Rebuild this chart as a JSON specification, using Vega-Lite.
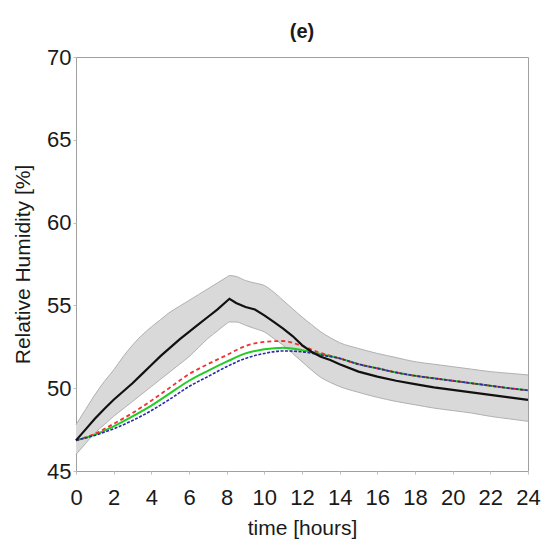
{
  "$schema": "https://vega.github.io/schema/vega-lite/v6.json",
  "width": 452,
  "height": 414,
  "autosize": {"type": "none"},
  "padding": {"left": 76, "top": 57, "right": 16, "bottom": 70},
  "background": "white",
  "config": {
    "view": {"stroke": "#a0a0a0", "strokeWidth": 1},
    "font": "Liberation Sans",
    "axis": {"domain": false, "grid": false, "labelFont": "Liberation Sans", "titleFont": "Liberation Sans", "labelFontSize": 22, "titleFontSize": 21, "labelColor": "#1a1a1a", "titleColor": "#1a1a1a", "titleFontWeight": "normal", "tickColor": "#c0c0c0"}
  },
  "title": {"text": "(e)", "fontSize": 20, "fontWeight": "bold", "font": "Liberation Sans", "color": "#1a1a1a", "anchor": "middle", "offset": 4},
  "datasets": {
    "obs": [
      {"t": 0, "rh": 46.85, "lo": 46.0, "hi": 47.8},
      {"t": 0.5, "rh": 47.5, "lo": 46.65, "hi": 48.7},
      {"t": 1, "rh": 48.15, "lo": 47.3, "hi": 49.6},
      {"t": 1.5, "rh": 48.75, "lo": 47.8, "hi": 50.4},
      {"t": 2, "rh": 49.3, "lo": 48.3, "hi": 51.1},
      {"t": 2.5, "rh": 49.8, "lo": 48.75, "hi": 51.9},
      {"t": 3, "rh": 50.3, "lo": 49.2, "hi": 52.6},
      {"t": 3.5, "rh": 50.85, "lo": 49.65, "hi": 53.2},
      {"t": 4, "rh": 51.4, "lo": 50.1, "hi": 53.7},
      {"t": 4.5, "rh": 51.95, "lo": 50.55, "hi": 54.15},
      {"t": 5, "rh": 52.45, "lo": 51.0, "hi": 54.6},
      {"t": 5.5, "rh": 52.95, "lo": 51.45, "hi": 54.95},
      {"t": 6, "rh": 53.4, "lo": 51.9, "hi": 55.3},
      {"t": 6.5, "rh": 53.85, "lo": 52.45, "hi": 55.65},
      {"t": 7, "rh": 54.3, "lo": 53.0, "hi": 56.0},
      {"t": 7.5, "rh": 54.75, "lo": 53.45, "hi": 56.35},
      {"t": 8, "rh": 55.25, "lo": 53.9, "hi": 56.7},
      {"t": 8.15, "rh": 55.4, "lo": 54.0, "hi": 56.8},
      {"t": 8.5, "rh": 55.15, "lo": 54.0, "hi": 56.75},
      {"t": 9, "rh": 54.9, "lo": 53.8, "hi": 56.5},
      {"t": 9.5, "rh": 54.75, "lo": 53.6, "hi": 56.35},
      {"t": 10, "rh": 54.4, "lo": 53.4, "hi": 56.2},
      {"t": 10.5, "rh": 54.0, "lo": 53.0, "hi": 55.8},
      {"t": 11, "rh": 53.6, "lo": 52.6, "hi": 55.3},
      {"t": 11.5, "rh": 53.15, "lo": 52.1, "hi": 54.8},
      {"t": 12, "rh": 52.6, "lo": 51.6, "hi": 54.3},
      {"t": 12.5, "rh": 52.2, "lo": 51.1, "hi": 53.85},
      {"t": 13, "rh": 51.9, "lo": 50.65, "hi": 53.4},
      {"t": 13.5, "rh": 51.7, "lo": 50.35, "hi": 53.05},
      {"t": 14, "rh": 51.45, "lo": 50.1, "hi": 52.75},
      {"t": 15, "rh": 51.0, "lo": 49.75, "hi": 52.4},
      {"t": 16, "rh": 50.7, "lo": 49.45, "hi": 52.1},
      {"t": 17, "rh": 50.45, "lo": 49.2, "hi": 51.85},
      {"t": 18, "rh": 50.25, "lo": 49.0, "hi": 51.6},
      {"t": 19, "rh": 50.05, "lo": 48.8, "hi": 51.45},
      {"t": 20, "rh": 49.9, "lo": 48.65, "hi": 51.3},
      {"t": 21, "rh": 49.75, "lo": 48.5, "hi": 51.15},
      {"t": 22, "rh": 49.6, "lo": 48.3, "hi": 51.0},
      {"t": 23, "rh": 49.45, "lo": 48.15, "hi": 50.9},
      {"t": 24, "rh": 49.3, "lo": 48.0, "hi": 50.8}
    ],
    "model": [
      {"t": 0, "s": "red", "rh": 46.85}, {"t": 1, "s": "red", "rh": 47.25}, {"t": 2, "s": "red", "rh": 47.85}, {"t": 3, "s": "red", "rh": 48.5}, {"t": 4, "s": "red", "rh": 49.25}, {"t": 5, "s": "red", "rh": 50.05}, {"t": 6, "s": "red", "rh": 50.85}, {"t": 7, "s": "red", "rh": 51.45}, {"t": 8, "s": "red", "rh": 52.0}, {"t": 9, "s": "red", "rh": 52.55}, {"t": 10, "s": "red", "rh": 52.8}, {"t": 11, "s": "red", "rh": 52.85}, {"t": 12, "s": "red", "rh": 52.55}, {"t": 13, "s": "red", "rh": 52.12}, {"t": 14, "s": "red", "rh": 51.8}, {"t": 15, "s": "red", "rh": 51.45}, {"t": 16, "s": "red", "rh": 51.2}, {"t": 17, "s": "red", "rh": 50.95}, {"t": 18, "s": "red", "rh": 50.75}, {"t": 19, "s": "red", "rh": 50.6}, {"t": 20, "s": "red", "rh": 50.45}, {"t": 21, "s": "red", "rh": 50.3}, {"t": 22, "s": "red", "rh": 50.15}, {"t": 23, "s": "red", "rh": 50.0}, {"t": 24, "s": "red", "rh": 49.87},
      {"t": 0, "s": "green", "rh": 46.85}, {"t": 1, "s": "green", "rh": 47.2}, {"t": 2, "s": "green", "rh": 47.7}, {"t": 3, "s": "green", "rh": 48.3}, {"t": 4, "s": "green", "rh": 48.95}, {"t": 5, "s": "green", "rh": 49.7}, {"t": 6, "s": "green", "rh": 50.45}, {"t": 7, "s": "green", "rh": 51.05}, {"t": 8, "s": "green", "rh": 51.6}, {"t": 9, "s": "green", "rh": 52.1}, {"t": 10, "s": "green", "rh": 52.35}, {"t": 11, "s": "green", "rh": 52.45}, {"t": 12, "s": "green", "rh": 52.3}, {"t": 13, "s": "green", "rh": 52.05}, {"t": 14, "s": "green", "rh": 51.8}, {"t": 15, "s": "green", "rh": 51.45}, {"t": 16, "s": "green", "rh": 51.2}, {"t": 17, "s": "green", "rh": 50.95}, {"t": 18, "s": "green", "rh": 50.75}, {"t": 19, "s": "green", "rh": 50.6}, {"t": 20, "s": "green", "rh": 50.45}, {"t": 21, "s": "green", "rh": 50.3}, {"t": 22, "s": "green", "rh": 50.15}, {"t": 23, "s": "green", "rh": 50.0}, {"t": 24, "s": "green", "rh": 49.87},
      {"t": 0, "s": "blue", "rh": 46.85}, {"t": 1, "s": "blue", "rh": 47.15}, {"t": 2, "s": "blue", "rh": 47.55}, {"t": 3, "s": "blue", "rh": 48.05}, {"t": 4, "s": "blue", "rh": 48.65}, {"t": 5, "s": "blue", "rh": 49.35}, {"t": 6, "s": "blue", "rh": 50.1}, {"t": 7, "s": "blue", "rh": 50.7}, {"t": 8, "s": "blue", "rh": 51.3}, {"t": 9, "s": "blue", "rh": 51.8}, {"t": 10, "s": "blue", "rh": 52.1}, {"t": 11, "s": "blue", "rh": 52.25}, {"t": 12, "s": "blue", "rh": 52.2}, {"t": 13, "s": "blue", "rh": 52.0}, {"t": 14, "s": "blue", "rh": 51.8}, {"t": 15, "s": "blue", "rh": 51.45}, {"t": 16, "s": "blue", "rh": 51.2}, {"t": 17, "s": "blue", "rh": 50.95}, {"t": 18, "s": "blue", "rh": 50.75}, {"t": 19, "s": "blue", "rh": 50.6}, {"t": 20, "s": "blue", "rh": 50.45}, {"t": 21, "s": "blue", "rh": 50.3}, {"t": 22, "s": "blue", "rh": 50.15}, {"t": 23, "s": "blue", "rh": 50.0}, {"t": 24, "s": "blue", "rh": 49.87}
    ]
  },
  "encoding": {
    "x": {"field": "t", "type": "quantitative", "scale": {"domain": [0, 24], "nice": false, "zero": false}, "axis": {"title": "time [hours]", "values": [0, 2, 4, 6, 8, 10, 12, 14, 16, 18, 20, 22, 24], "tickSize": 3, "labelPadding": 13, "titlePadding": 9, "labelFlush": false}}
  },
  "layer": [
    {
      "data": {"name": "obs"},
      "mark": {"type": "area", "color": "#d9d9d9", "opacity": 1, "interpolate": "monotone"},
      "encoding": {
        "y": {"field": "lo", "type": "quantitative", "scale": {"domain": [45, 70], "nice": false, "zero": false}, "axis": {"title": "Relative Humidity [%]", "values": [45, 50, 55, 60, 65, 70], "tickSize": 3, "labelPadding": 2, "titlePadding": 13}},
        "y2": {"field": "hi"}
      }
    },
    {
      "data": {"name": "obs"},
      "mark": {"type": "line", "color": "#b0b0b0", "strokeWidth": 1, "interpolate": "monotone"},
      "encoding": {"y": {"field": "hi", "type": "quantitative"}}
    },
    {
      "data": {"name": "obs"},
      "mark": {"type": "line", "color": "#b0b0b0", "strokeWidth": 1, "interpolate": "monotone"},
      "encoding": {"y": {"field": "lo", "type": "quantitative"}}
    },
    {
      "data": {"name": "model"},
      "transform": [{"filter": "datum.s === 'green'"}],
      "mark": {"type": "line", "color": "#22cc22", "strokeWidth": 2, "interpolate": "monotone"},
      "encoding": {"y": {"field": "rh", "type": "quantitative"}}
    },
    {
      "data": {"name": "model"},
      "transform": [{"filter": "datum.s === 'red'"}],
      "mark": {"type": "line", "color": "#ee3333", "strokeWidth": 1.8, "strokeDash": [4, 3], "interpolate": "monotone"},
      "encoding": {"y": {"field": "rh", "type": "quantitative"}}
    },
    {
      "data": {"name": "model"},
      "transform": [{"filter": "datum.s === 'blue'"}],
      "mark": {"type": "line", "color": "#2a2aa8", "strokeWidth": 1.6, "strokeDash": [3, 1.5], "interpolate": "monotone"},
      "encoding": {"y": {"field": "rh", "type": "quantitative"}}
    },
    {
      "data": {"name": "obs"},
      "mark": {"type": "line", "color": "#111111", "strokeWidth": 2.2},
      "encoding": {"y": {"field": "rh", "type": "quantitative"}}
    }
  ]
}
